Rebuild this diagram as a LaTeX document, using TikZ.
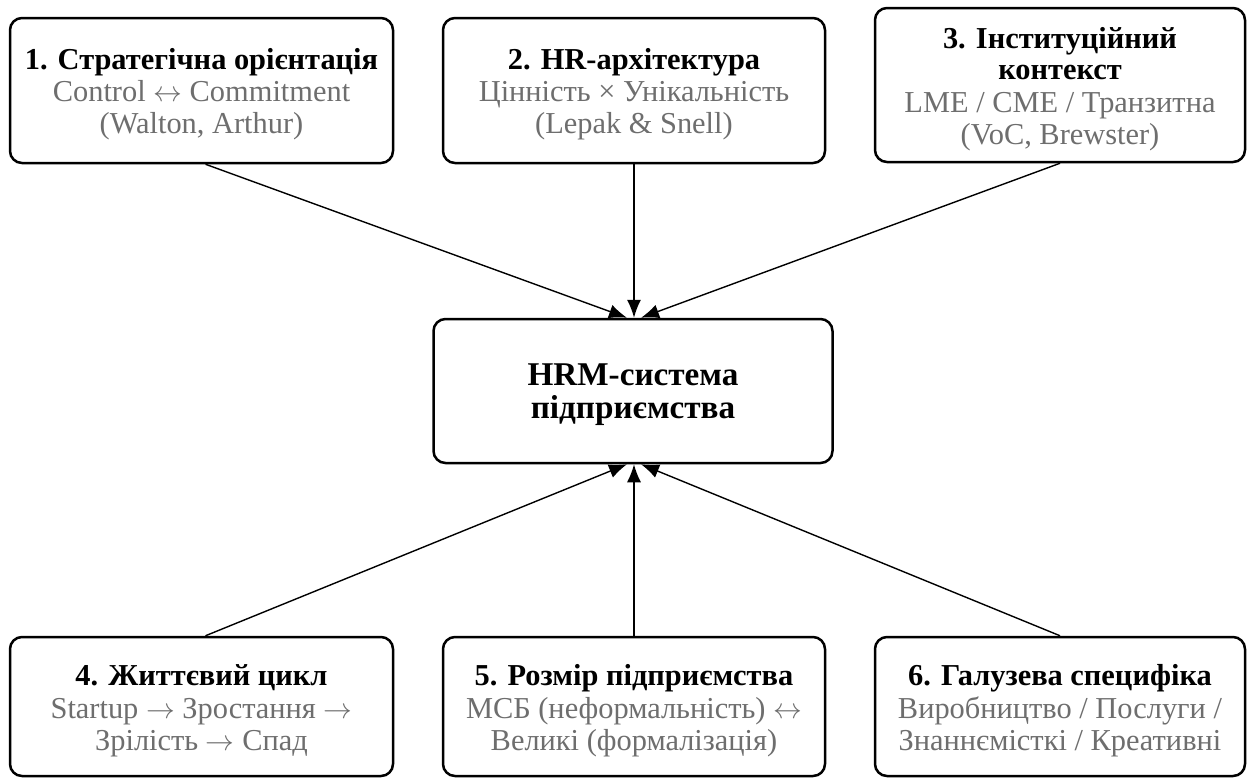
\documentclass[tikz,border=0pt]{standalone}
\usepackage{fontspec}
\setmainfont{Liberation Serif}
\usetikzlibrary{arrows.meta}
\definecolor{subgray}{HTML}{6E6E6E}
\tikzset{
  box/.style={draw=black, line width=1.25pt, rounded corners=6pt, fill=white, inner sep=0pt},
  txt/.style={align=center, inner sep=0pt},
  arr/.style={line width=0.7pt, -{Latex[length=9pt,width=7pt]}},
}
\newcommand{\ttl}[1]{{\bfseries #1}}
\newcommand{\sub}[1]{{\color{subgray}#1}}
\newcommand{\ra}{$\rightarrow$}
\newcommand{\lra}{$\leftrightarrow$}
\begin{document}
\begin{tikzpicture}[x=0.5pt,y=-0.5pt,font=\fontsize{15.2}{16.2}\selectfont]
\useasboundingbox (0,0) rectangle (1254,778);
\node[box, minimum width=191.5pt, minimum height=72.5pt] (b1) at (201.5,90.5) {};
\node[txt] (b1t) at ([yshift=-1.8pt]b1.center)
  {\ttl{1. Стратегічна орієнтація}\\ \sub{Control \lra{} Commitment}\\ \sub{(Walton, Arthur)}};
\node[box, minimum width=191pt, minimum height=72.5pt] (b2) at (634,90.5) {};
\node[txt] (b2t) at ([yshift=-1.8pt]b2.center)
  {\ttl{2. HR-архітектура}\\ \sub{Цінність × Унікальність}\\ \sub{(Lepak \& Snell)}};
\node[box, minimum width=185pt, minimum height=77pt] (b3) at (1060,85) {};
\node[txt] (b3t) at ([yshift=-2pt]b3.center)
  {\ttl{3. Інституційний}\\[-0.5pt] \ttl{контекст}\\ \sub{LME / CME / Транзитна}\\ \sub{(VoC, Brewster)}};
\node[box, minimum width=199.5pt, minimum height=72pt] (c) at (633,391) {};
\node[txt, font=\fontsize{16.6}{16.5}\selectfont\bfseries] (ct) at ([yshift=-2pt]c.center)
  {HRM-система\\ підприємства};
\node[box, minimum width=191.5pt, minimum height=69.5pt] (b4) at (201.5,706.5) {};
\node[txt] (b4t) at ([yshift=-2.2pt]b4.center)
  {\ttl{4. Життєвий цикл}\\ \sub{Startup \ra{} Зростання \ra}\\ \sub{Зрілість \ra{} Спад}};
\node[box, minimum width=191pt, minimum height=69.5pt] (b5) at (634,706.5) {};
\node[txt] (b5t) at ([yshift=-2.2pt]b5.center)
  {\ttl{5. Розмір підприємства}\\ \sub{МСБ (неформальність) \lra}\\ \sub{Великі (формалізація)}};
\node[box, minimum width=185pt, minimum height=69.5pt] (b6) at (1060,706.5) {};
\node[txt] (b6t) at ([yshift=-2.2pt]b6.center)
  {\ttl{6. Галузева специфіка}\\ \sub{Виробництво / Послуги /}\\ \sub{Знаннємісткі / Креативні}};
\coordinate (t1) at ([xshift=-3pt]c.north);
\coordinate (t2) at ([xshift=0.5pt]c.north);
\coordinate (t3) at ([xshift=4pt]c.north);
\coordinate (u1) at ([xshift=-3pt]c.south);
\coordinate (u2) at ([xshift=0.5pt]c.south);
\coordinate (u3) at ([xshift=4pt]c.south);
\draw[arr] ([xshift=2pt]b1.south) -- (t1);
\draw[arr] (b2.south) -- (t2);
\draw[arr] (b3.south) -- (t3);
\draw[arr] ([xshift=2pt]b4.north) -- (u1);
\draw[arr] (b5.north) -- (u2);
\draw[arr] (b6.north) -- (u3);
\end{tikzpicture}
\end{document}
